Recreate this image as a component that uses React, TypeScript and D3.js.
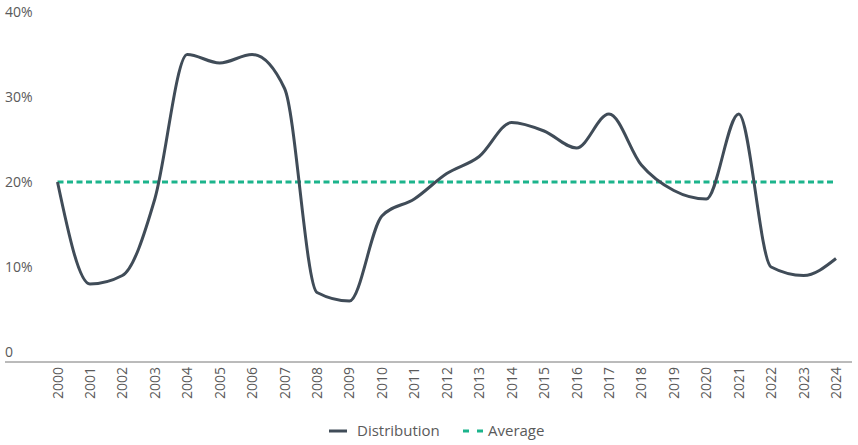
import React, {useEffect, useRef} from "react";
import * as d3 from "d3";

const years = [
    "2000", "2001", "2002", "2003", "2004", "2005", "2006", "2007", "2008", "2009",
    "2010", "2011", "2012", "2013", "2014", "2015", "2016", "2017", "2018", "2019",
    "2020", "2021", "2022", "2023", "2024",
];
const distribution = [
    20, 8, 9, 18, 35, 34, 35, 31, 7, 6,
    16, 18, 21, 23, 27, 26, 24, 28, 22, 19,
    18, 28, 10, 9, 11,
];
const average = 20;
const yTicks = [0, 10, 20, 30, 40];

const WIDTH = 858;
const HEIGHT = 445;
const FONT = "'Open Sans', sans-serif";
const LINE_COLOR = "#404c58";
const AVG_COLOR = "#1cb48c";
const TEXT_COLOR = "#5a5a5a";

export default function App() {
    const svgRef = useRef<SVGSVGElement | null>(null);

    useEffect(() => {
        if (!svgRef.current) return;
        const svg = d3.select(svgRef.current);
        svg.selectAll("*").remove();

        const x = d3.scalePoint<string>().domain(years).range([57.5, 836]);
        const y = d3.scaleLinear().domain([0, 40]).range([352, 12]);

        // y tick labels, no gridlines
        svg.append("g")
            .selectAll("text")
            .data(yTicks)
            .enter()
            .append("text")
            .attr("x", 5)
            .attr("y", (d) => y(d))
            .attr("dy", "0.35em")
            .attr("font-family", FONT)
            .attr("font-size", 14)
            .attr("fill", TEXT_COLOR)
            .text((d) => (d === 0 ? "0" : `${d}%`));

        // x axis line
        svg.append("line")
            .attr("x1", 5)
            .attr("x2", 852)
            .attr("y1", 362)
            .attr("y2", 362)
            .attr("stroke", "#777")
            .attr("stroke-width", 1);

        // rotated year labels
        svg.append("g")
            .selectAll("text")
            .data(years)
            .enter()
            .append("text")
            .attr("transform", (d) => `translate(${x(d)! + 5}, 367) rotate(-90)`)
            .attr("text-anchor", "end")
            .attr("font-family", FONT)
            .attr("font-size", 14)
            .attr("fill", TEXT_COLOR)
            .text((d) => d);

        // average line
        svg.append("line")
            .attr("x1", x(years[0])!)
            .attr("x2", x(years[years.length - 1])!)
            .attr("y1", y(average))
            .attr("y2", y(average))
            .attr("stroke", AVG_COLOR)
            .attr("stroke-width", 3)
            .attr("stroke-dasharray", "6,3.5");

        const line = d3
            .line<number>()
            .x((_, i) => x(years[i])!)
            .y((d) => y(d))
            .curve(d3.curveMonotoneX);

        svg.append("path")
            .datum(distribution)
            .attr("d", line)
            .attr("fill", "none")
            .attr("stroke", LINE_COLOR)
            .attr("stroke-width", 3)
            .attr("stroke-linejoin", "round");

        // legend
        const legend = svg.append("g").attr("transform", "translate(329, 431)");
        legend.append("line")
            .attr("x1", 0).attr("x2", 18).attr("y1", 0).attr("y2", 0)
            .attr("stroke", LINE_COLOR).attr("stroke-width", 3);
        legend.append("text")
            .attr("x", 28).attr("y", 0).attr("dy", "0.35em")
            .attr("font-family", FONT).attr("font-size", 15).attr("fill", TEXT_COLOR)
            .text("Distribution");
        legend.append("line")
            .attr("x1", 134).attr("x2", 155).attr("y1", 0).attr("y2", 0)
            .attr("stroke", AVG_COLOR).attr("stroke-width", 3)
            .attr("stroke-dasharray", "6,8");
        legend.append("text")
            .attr("x", 159).attr("y", 0).attr("dy", "0.35em")
            .attr("font-family", FONT).attr("font-size", 15).attr("fill", TEXT_COLOR)
            .text("Average");
    }, []);

    return (
        <div style={{position: "absolute", left: 0, top: 0}}>
            <svg ref={svgRef} width={WIDTH} height={HEIGHT} style={{display: "block", background: "#fff"}}/>
        </div>
    );
}
